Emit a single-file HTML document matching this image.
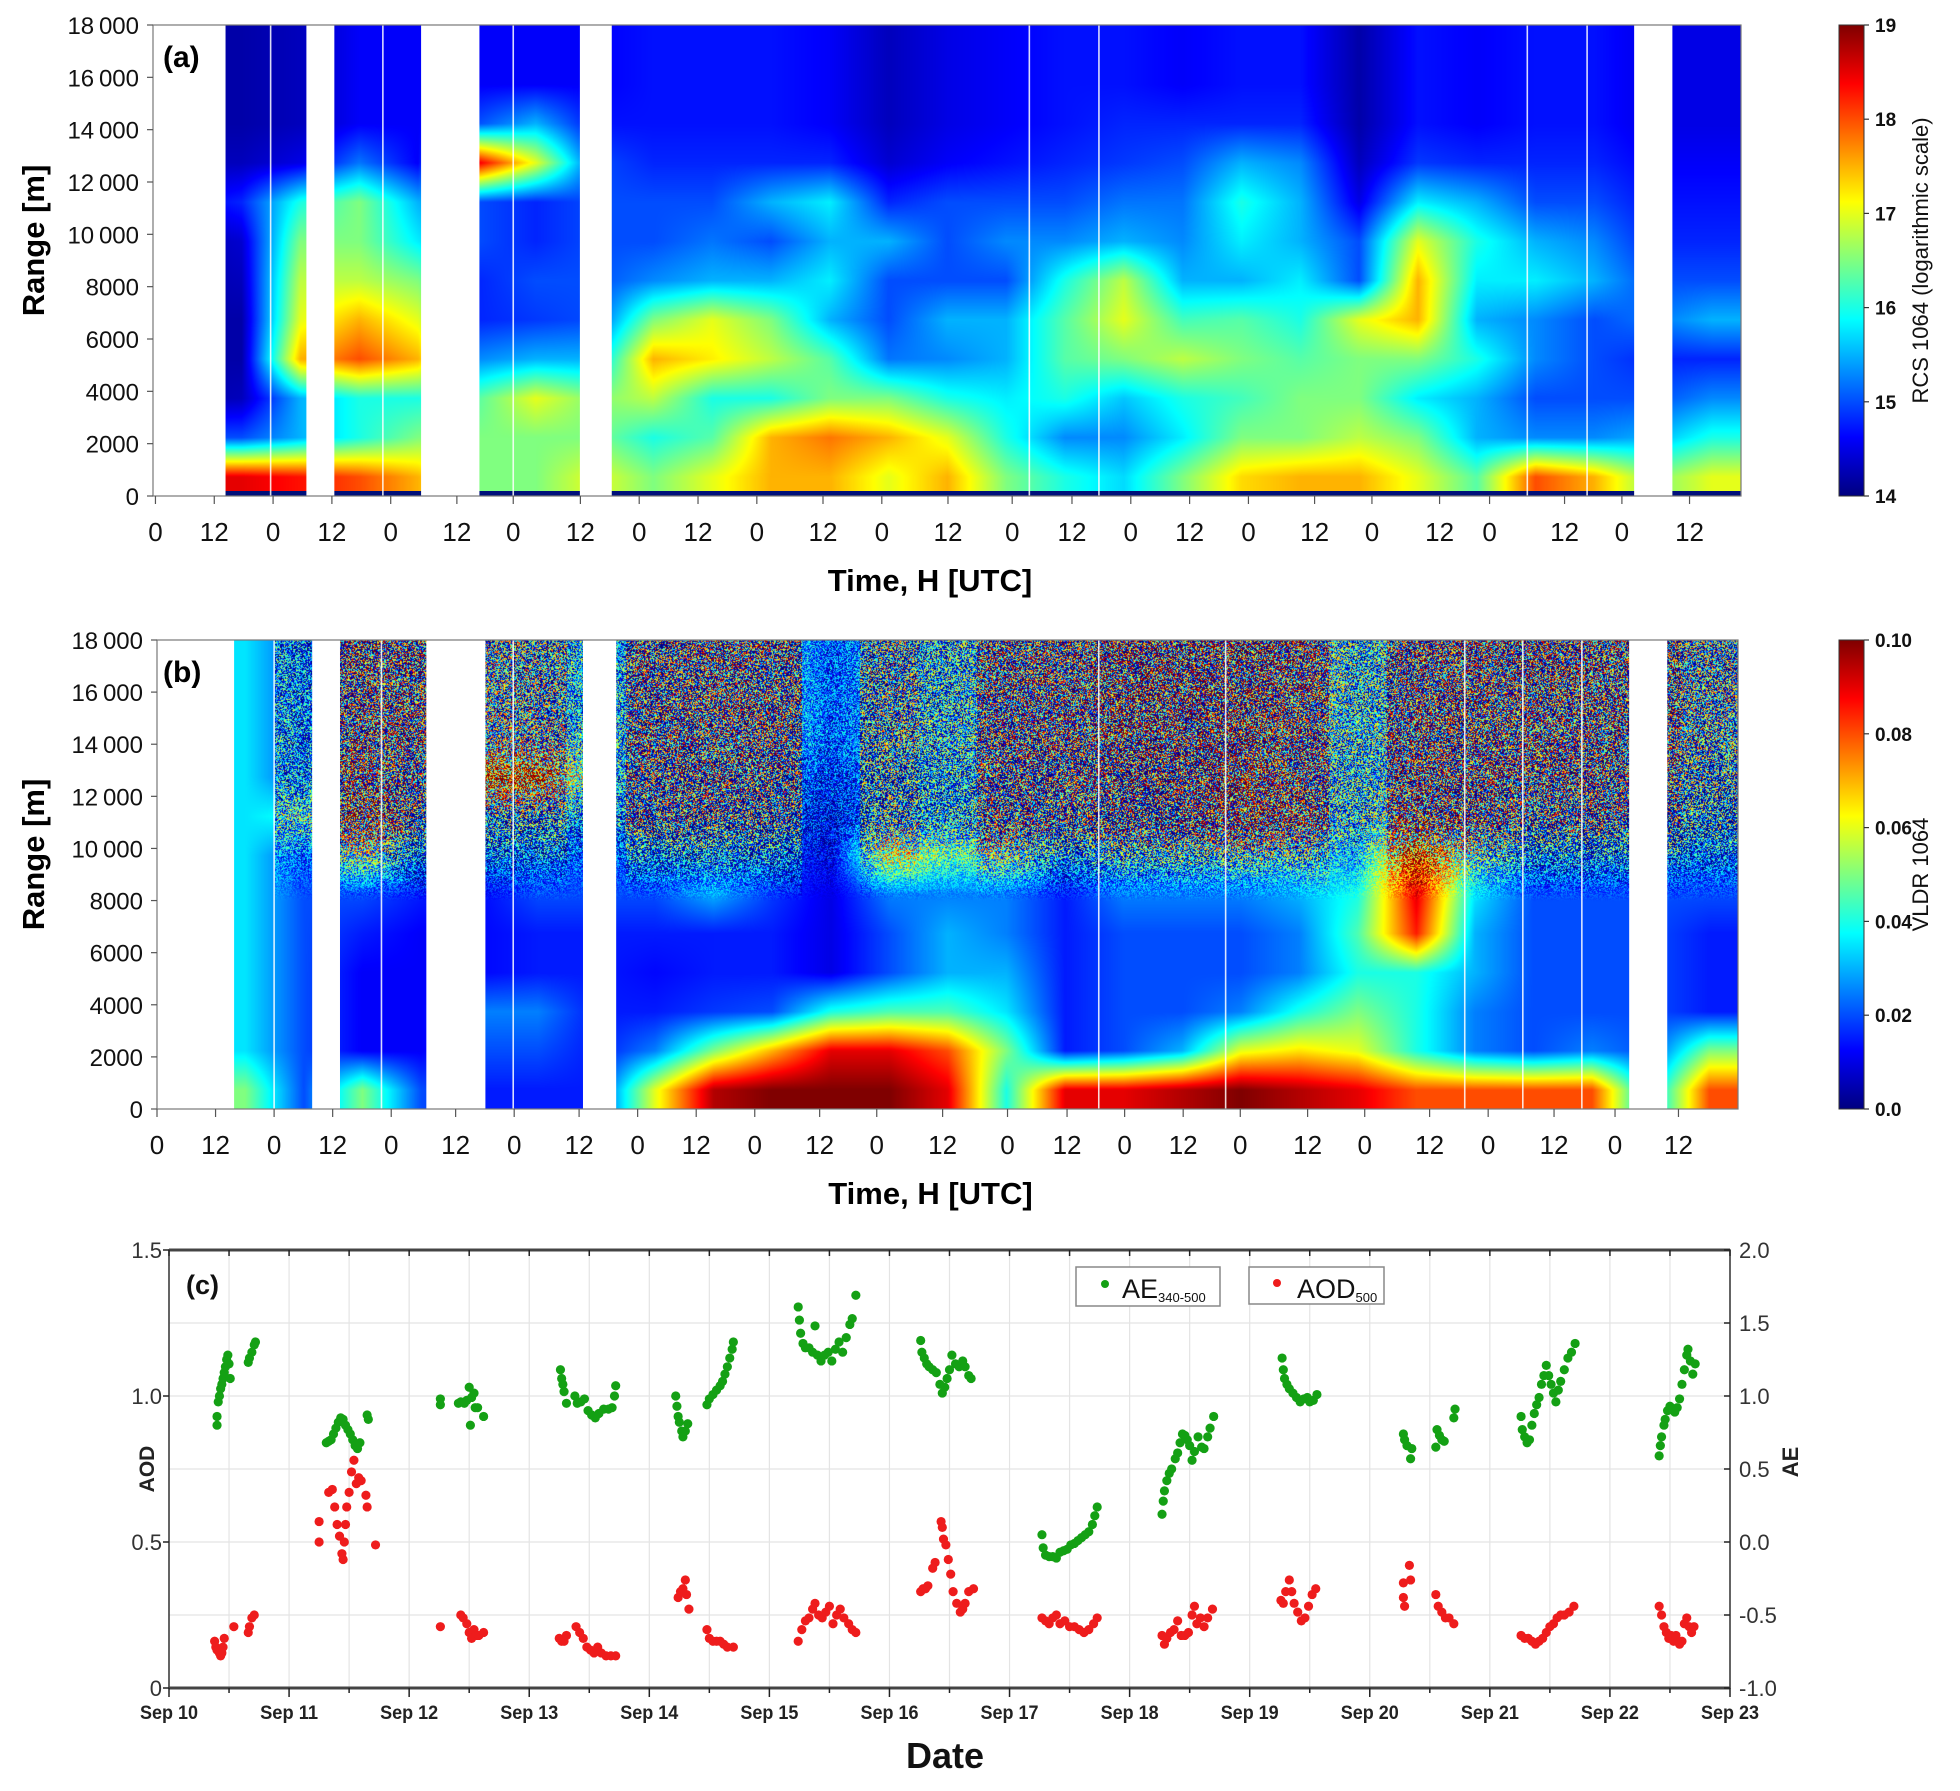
<!DOCTYPE html>
<html><head><meta charset="utf-8">
<style>
html,body{margin:0;padding:0;background:#fff;}
#wrap{position:relative;width:1960px;height:1791px;overflow:hidden;font-family:"Liberation Sans",sans-serif;}
canvas{position:absolute;}
svg{position:absolute;left:0;top:0;}
</style></head>
<body>
<div id="wrap">
<canvas id="heatA"></canvas>
<canvas id="heatB"></canvas>
<svg id="fig" width="1960" height="1791" viewBox="0 0 1960 1791">
<defs>
<linearGradient id="jet" x1="0" y1="1" x2="0" y2="0">
<stop offset="0" stop-color="#00007f"/><stop offset="0.125" stop-color="#0000ff"/>
<stop offset="0.375" stop-color="#00ffff"/><stop offset="0.625" stop-color="#ffff00"/>
<stop offset="0.875" stop-color="#ff0000"/><stop offset="1" stop-color="#7f0000"/>
</linearGradient>
</defs>
<g id="layerA"></g>
<g id="layerB"></g>
<g id="layerC"></g>
</svg>
</div>
<script>
// ---------- DATA ----------
const rcsCols = [
[18.5,15,14.2,14.2,14.2,14.2,14.2,14.5,14.3,14.2,14.2,14.2],
[18.5,15,14.3,14.2,14.2,14.3,14.4,14.8,14.3,14.2,14.2,14.2],
[18.3,15.5,15.5,17.5,17,16.8,16.5,16,14.5,14.3,14.3,14.3],
[18,16,16,18,17.5,16.8,16.5,16.5,15.2,14.6,14.6,14.6],
[17.5,16.5,16,17.5,17,16.5,15.8,15.5,14.6,14.6,14.6,14.6],
[16.5,16.5,16.3,15.3,14.8,14.8,15,15,18.5,15,14.6,14.6],
[16.5,16.5,17,15.5,14.9,15,14.8,14.8,17,15.5,14.6,14.6],
[17,16.5,16.5,15.5,15,15,15,15,15,14.7,14.6,14.6],
[16.5,16,16.8,17.5,16.5,15.3,15,15,14.8,14.7,14.7,14.7],
[17,16.3,16,17.2,17,15.5,15.2,15,14.8,14.7,14.7,14.7],
[17.5,17.5,16,16.8,16.5,15.5,15,15.5,14.8,14.7,14.7,14.7],
[17.5,17.8,16.5,16.3,15.5,15.8,15.5,15.8,14.8,14.6,14.6,14.6],
[17,17.5,16.5,15.2,15,15,15.5,14.8,14.4,14.3,14.3,14.3],
[17.5,17,16,15.3,15.5,15,15,15,14.6,14.5,14.5,14.5],
[16.5,16,15.8,15.5,15.5,15,15.3,15,14.7,14.6,14.6,14.6],
[16,15.3,16,16.3,16.3,16,15.3,15,14.8,14.7,14.7,14.7],
[15.7,15.3,15.6,16.5,17,16.8,15.5,15.2,14.9,14.8,14.7,14.7],
[16.5,15.8,16,16.8,16.2,15.5,15.3,15.2,15,14.8,14.6,14.6],
[17.3,16.5,16.2,16.5,16.3,15.5,15.8,16,15.5,14.8,14.7,14.7],
[17.5,16.5,16.5,16.3,16,15.8,15.5,15.5,15.3,14.8,14.7,14.7],
[17.5,16.8,16.5,16.5,17,15,15,14.5,14.3,14.2,14.2,14.2],
[17,16.5,15.8,16.5,17.5,17.5,17,15.8,14.9,14.7,14.7,14.7],
[16.3,15.5,15.5,16,15.5,15.8,16,15.5,14.8,14.6,14.6,14.6],
[18,15.3,15,15.3,15.3,15.8,15.5,15,14.8,14.7,14.7,14.7],
[17.5,15.3,15,15,15,15.5,15.3,15,14.8,14.7,14.7,14.7],
[16.5,15.5,15,14.8,15.2,15,14.8,14.7,14.6,14.5,14.5,14.5],
[17,16,15.3,14.8,15.5,15,14.8,14.7,14.6,14.5,14.5,14.5]
];
const vldrCols = [
[5,3.5,3.5,3.5,3.5,3.5,3.5,3.5,3.5,3.5,3.5,3.5],
[5,3.5,3.5,3.5,3.5,3.5,3.5,3.5,3.5,3.5,3.5,3.5],
[2,2,2,2,2,2,2,4,2,2,2,2],
[5,1.2,1.2,1.2,1.5,2,5,6,5,4,4,4],
[2,1.2,1.2,1.2,1.2,1.5,1.5,2,2.5,3.5,3.5,3.5],
[1.5,2,2.5,1.3,1.3,1.3,2,2.5,9,4,3.5,3.5],
[1.5,2,2.5,1.5,1.5,2,2,2,9,3.5,3,3],
[1.5,1.5,1.5,1.5,1.5,2,2,2.5,3,3,3,3],
[6,2.5,1.5,1.3,1.5,2,2,2.5,2.5,3,3,3],
[9.5,5,1.8,1.5,1.5,3,2,2.5,3,3.5,3.5,3.5],
[10,7,2,1.5,1.5,1.8,2,2,2.5,3.5,3.5,3.5],
[10,9,4,1,1,1,1,1,1.5,2,2,2],
[10,9,4.5,2,2,2.5,6,2.5,2.5,3,3,3],
[9,8,4.5,3,3,2.5,4.5,2.5,2.5,3,3,3],
[4,5,3.5,3,2.5,2.5,4.5,3,3,3.5,3.5,3.5],
[9,1.5,1.5,1.5,1.5,1.5,2,2.5,3,4,4,4],
[9,2,2,2,2,2.5,3,3,3.5,4,4.5,4.5],
[9.5,3,2,2,2,2.5,3,3,3.5,4,4.5,4.5],
[10,6,2.5,2,2,2.5,3.5,6,6,4.5,4.5,4.5],
[9.5,6.5,4,2.5,2.5,3,3.5,4.5,4,4.5,4.5,4.5],
[9,6,5,4,4.5,4,3,3,3,3,3,3],
[8,4,4,4,8.5,9,9,5,4,4,4,4],
[8,2.5,2.5,3,3,3.5,4,3.5,4,4,4,4],
[8,2,2,2,2,2,2,2.5,3.5,4,4,4],
[8,2.5,2,2,2,2,2,2.5,3.5,4,4,4],
[3,2,2,2,2,2,2,2.5,3,3.5,3.5,3.5],
[8,5,1.5,1.5,1.5,2,2,2,2.5,3,3,3]
];
const vldrNoise = [0,0,0.5,1,1,0.8,0.8,0.5,1,1,1,0.3,0.8,0.6,1,1,1.1,1.1,1.1,1,0.6,1,1,1,1,1,0.8];
const gapsA = [[0,14.8],[31.4,37],[54.8,66.6],[87.2,93.6],[302.3,310]];
const linesA = [24,46.9,73.5,178.8,193,280.4,292.6];
const gapsB = [[0,15.8],[31.9,37.5],[55.3,67.3],[87.4,94.1],[301.8,309.5]];
const linesB = [24,46,73,193,219,268,279.9,292];
const tickHoursA = [0.5,12.5,24.5,36.5,48.5,62,73.5,87.2,99.2,111.2,123.2,136.7,148.7,162.2,175.3,187.5,199.5,211.5,223.5,237,248.7,262.5,272.7,288,299.7,313.5];
const tickHoursB = [0,12,24,36,48,61.2,73.2,86.5,98.5,110.5,122.5,135.8,147.5,161,174.3,186.5,198.3,210.3,222,235.8,247.5,260.8,272.8,286.3,298.8,311.8];
const tickLabels = ["0","12","0","12","0","12","0","12","0","12","0","12","0","12","0","12","0","12","0","12","0","12","0","12","0","12"];
const rangeTicks = [0,2000,4000,6000,8000,10000,12000,14000,16000,18000];
const rangeLabels = ["0","2000","4000","6000","8000","10\u2009000","12\u2009000","14\u2009000","16\u2009000","18\u2009000"];
const cbATicks = [14,15,16,17,18,19];
const cbBTicks = [0,0.02,0.04,0.06,0.08,0.10];
const cbBLabels = ["0.0","0.02","0.04","0.06","0.08","0.10"];
const aeDays = [0.40,0.40,0.41,0.42,0.43,0.44,0.45,0.46,0.47,0.48,0.49,0.50,0.51,0.66,0.67,0.69,0.71,0.72,
1.31,1.33,1.35,1.37,1.39,1.41,1.43,1.45,1.47,1.49,1.51,1.53,1.55,1.57,1.59,1.65,1.66,
2.26,2.26,2.41,2.43,2.46,2.48,2.50,2.51,2.52,2.54,2.55,2.57,2.62,
3.26,3.27,3.28,3.29,3.31,3.38,3.40,3.43,3.46,3.49,3.52,3.55,3.58,3.62,3.66,3.69,3.71,3.72,
4.22,4.23,4.24,4.25,4.27,4.28,4.30,4.32,4.48,4.50,4.53,4.56,4.59,4.61,4.63,4.65,4.67,4.69,4.70,
5.24,5.25,5.26,5.28,5.30,5.33,5.36,5.38,5.40,5.43,5.46,5.49,5.52,5.55,5.58,5.61,5.64,5.67,5.69,5.72,
6.26,6.27,6.29,6.31,6.33,6.36,6.39,6.42,6.44,6.46,6.48,6.50,6.52,6.55,6.58,6.61,6.63,6.66,6.68,
7.27,7.28,7.30,7.33,7.36,7.39,7.42,7.45,7.48,7.51,7.54,7.57,7.60,7.63,7.66,7.69,7.71,7.73,
8.27,8.28,8.29,8.31,8.33,8.35,8.38,8.40,8.42,8.44,8.46,8.48,8.50,8.52,8.54,8.57,8.60,8.62,8.65,8.67,8.70,
9.27,9.28,9.29,9.31,9.33,9.36,9.39,9.42,9.45,9.48,9.50,9.53,9.56,
10.28,10.29,10.31,10.34,10.35,10.55,10.56,10.58,10.60,10.62,10.70,10.71,
11.26,11.27,11.29,11.31,11.33,11.35,11.37,11.39,11.41,11.43,11.45,11.47,11.49,11.51,11.53,11.55,11.57,11.59,11.62,11.65,11.68,11.71,
12.41,12.42,12.43,12.45,12.46,12.48,12.50,12.52,12.54,12.56,12.58,12.60,12.62,12.64,12.65,12.67,12.69,12.71];
const aeValues = [0.80,0.86,0.96,1.0,1.05,1.08,1.12,1.16,1.2,1.25,1.28,1.22,1.12,1.23,1.26,1.3,1.35,1.37,
0.68,0.69,0.70,0.74,0.78,0.82,0.85,0.84,0.80,0.77,0.74,0.70,0.66,0.64,0.68,0.87,0.84,
0.98,0.94,0.95,0.96,0.95,0.97,1.06,0.80,0.99,1.02,0.92,0.92,0.86,
1.18,1.12,1.08,1.03,0.95,1.0,0.95,0.96,0.98,0.90,0.87,0.85,0.88,0.91,0.91,0.92,1.0,1.07,
1.0,0.93,0.86,0.82,0.76,0.72,0.76,0.81,0.94,0.98,1.01,1.04,1.07,1.10,1.15,1.2,1.26,1.32,1.37,
1.61,1.52,1.43,1.36,1.33,1.33,1.30,1.48,1.28,1.24,1.28,1.30,1.24,1.32,1.37,1.30,1.40,1.49,1.53,1.69,
1.38,1.30,1.26,1.22,1.20,1.18,1.16,1.08,1.02,1.06,1.12,1.18,1.28,1.22,1.2,1.24,1.20,1.14,1.12,
0.05,-0.04,-0.09,-0.10,-0.10,-0.11,-0.07,-0.06,-0.05,-0.02,-0.01,0.01,0.03,0.05,0.07,0.12,0.18,0.24,
0.19,0.28,0.35,0.42,0.47,0.50,0.57,0.61,0.68,0.74,0.73,0.70,0.66,0.56,0.62,0.72,0.65,0.64,0.72,0.78,0.86,
1.26,1.18,1.12,1.08,1.05,1.02,0.99,0.96,0.98,0.99,0.96,0.97,1.01,
0.74,0.70,0.66,0.57,0.64,0.65,0.77,0.73,0.70,0.69,0.85,0.91,
0.86,0.77,0.72,0.68,0.70,0.80,0.88,0.94,0.99,1.08,1.14,1.21,1.14,1.08,1.02,0.96,1.04,1.10,1.18,1.26,1.30,1.36,
0.59,0.66,0.72,0.80,0.84,0.90,0.93,0.91,0.89,0.92,0.98,1.08,1.18,1.28,1.32,1.24,1.15,1.22];
const aodDays = [0.38,0.39,0.40,0.41,0.42,0.43,0.44,0.45,0.46,0.54,0.66,0.67,0.69,0.71,
1.25,1.25,1.33,1.36,1.38,1.40,1.42,1.44,1.45,1.46,1.47,1.48,1.50,1.52,1.54,1.56,1.58,1.60,1.64,1.65,1.72,
2.26,2.43,2.45,2.48,2.50,2.52,2.54,2.56,2.58,2.62,
3.25,3.27,3.29,3.31,3.39,3.42,3.45,3.48,3.51,3.54,3.57,3.60,3.64,3.68,3.72,
4.24,4.26,4.28,4.30,4.31,4.33,4.48,4.50,4.53,4.56,4.59,4.62,4.65,4.70,
5.24,5.27,5.30,5.33,5.36,5.38,5.41,5.44,5.47,5.50,5.53,5.56,5.59,5.62,5.66,5.69,5.72,
6.26,6.28,6.30,6.32,6.36,6.38,6.43,6.44,6.45,6.47,6.49,6.51,6.53,6.56,6.59,6.61,6.63,6.66,6.70,
7.27,7.30,7.33,7.36,7.39,7.42,7.46,7.50,7.54,7.58,7.62,7.66,7.70,7.73,
8.27,8.29,8.31,8.34,8.37,8.40,8.43,8.46,8.49,8.52,8.54,8.56,8.59,8.62,8.65,8.69,
9.26,9.28,9.30,9.33,9.35,9.37,9.40,9.43,9.46,9.49,9.52,9.55,
10.28,10.28,10.29,10.33,10.34,10.55,10.57,10.60,10.63,10.66,10.70,
11.26,11.29,11.32,11.35,11.38,11.41,11.44,11.47,11.50,11.53,11.56,11.59,11.62,11.66,11.70,
12.41,12.43,12.45,12.47,12.49,12.51,12.53,12.55,12.58,12.60,12.62,12.64,12.66,12.68,12.70];
const aodValues = [0.16,0.14,0.13,0.13,0.12,0.11,0.12,0.14,0.17,0.21,0.19,0.21,0.24,0.25,
0.57,0.50,0.67,0.68,0.62,0.56,0.52,0.46,0.44,0.50,0.56,0.62,0.67,0.74,0.78,0.70,0.72,0.71,0.66,0.62,0.49,
0.21,0.25,0.24,0.22,0.19,0.17,0.20,0.18,0.18,0.19,
0.17,0.16,0.16,0.18,0.21,0.19,0.17,0.14,0.13,0.12,0.14,0.12,0.11,0.11,0.11,
0.31,0.33,0.34,0.37,0.32,0.27,0.20,0.17,0.16,0.16,0.16,0.15,0.14,0.14,
0.16,0.20,0.23,0.24,0.27,0.29,0.25,0.24,0.26,0.28,0.22,0.25,0.27,0.24,0.22,0.20,0.19,
0.33,0.34,0.34,0.35,0.41,0.43,0.57,0.55,0.51,0.49,0.44,0.39,0.33,0.29,0.26,0.27,0.29,0.33,0.34,
0.24,0.23,0.22,0.24,0.25,0.22,0.23,0.21,0.21,0.20,0.19,0.20,0.22,0.24,
0.18,0.15,0.17,0.19,0.20,0.23,0.18,0.18,0.19,0.25,0.28,0.22,0.24,0.21,0.24,0.27,
0.30,0.29,0.33,0.37,0.33,0.29,0.26,0.23,0.24,0.28,0.32,0.34,
0.36,0.31,0.28,0.42,0.37,0.32,0.28,0.26,0.24,0.24,0.22,
0.18,0.17,0.17,0.16,0.15,0.16,0.17,0.19,0.21,0.22,0.24,0.25,0.25,0.26,0.28,
0.28,0.25,0.21,0.19,0.17,0.18,0.16,0.18,0.15,0.16,0.22,0.24,0.21,0.19,0.21];
const dateLabels = ["Sep 10","Sep 11","Sep 12","Sep 13","Sep 14","Sep 15","Sep 16","Sep 17","Sep 18","Sep 19","Sep 20","Sep 21","Sep 22","Sep 23"];
const aodTicks = [0,0.5,1.0,1.5];
const aodTickLabels = ["0","0.5","1.0","1.5"];
const aeTicks = [-1.0,-0.5,0.0,0.5,1.0,1.5,2.0];
const aeTickLabels = ["-1.0","-0.5","0.0","0.5","1.0","1.5","2.0"];

// ---------- GEOMETRY ----------
const PA = {x0:153,x1:1741,y0:25,y1:496};
const PB = {x0:157,x1:1738,y0:640,y1:1109};
const PC = {x0:169,x1:1730,y0:1250,y1:1688};
const HOURS = 324, BINH = 12, BINM = 1500;
function xHour(p,h){return p.x0 + h/HOURS*(p.x1-p.x0);}
function yRange(p,m){return p.y1 - m/18000*(p.y1-p.y0);}
function xDay(d){return PC.x0 + d/13*(PC.x1-PC.x0);}
function yAOD(v){return PC.y1 - v/1.5*(PC.y1-PC.y0);}
function yAE(v){return PC.y1 - (v+1)/3*(PC.y1-PC.y0);}

const NS = "http://www.w3.org/2000/svg";
function mk(parent, tag, attrs, text){
  const e = document.createElementNS(NS, tag);
  for (const k in attrs) e.setAttribute(k, attrs[k]);
  if (text !== undefined) e.textContent = text;
  parent.appendChild(e);
  return e;
}
function jet(t){
  t = Math.max(0, Math.min(1, t));
  const c = v => Math.round(255*Math.max(0, Math.min(1, v)));
  return [c(1.5-Math.abs(4*t-3)), c(1.5-Math.abs(4*t-2)), c(1.5-Math.abs(4*t-1))];
}
function hash(x,y){
  let h = (x*374761393 + y*668265263) | 0;
  h = (h ^ (h >>> 13)) * 1274126177 | 0;
  return (((h ^ (h >>> 16)) >>> 0) % 1000) / 1000;
}
function sampleGrid(cols, h, m){
  const nx = cols.length, ny = cols[0].length;
  let fx = h/BINH - 0.5, fy = m/BINM - 0.5;
  fx = Math.max(0, Math.min(nx-1, fx)); fy = Math.max(0, Math.min(ny-1, fy));
  const i0 = Math.floor(fx), j0 = Math.floor(fy);
  const i1 = Math.min(nx-1, i0+1), j1 = Math.min(ny-1, j0+1);
  const tx = fx-i0, ty = fy-j0;
  const a = cols[i0][j0]*(1-tx) + cols[i1][j0]*tx;
  const b = cols[i0][j1]*(1-tx) + cols[i1][j1]*tx;
  return a*(1-ty) + b*ty;
}
function drawHeat(id, p, cols, vmin, vmax, noise){
  const cv = document.getElementById(id);
  const w = p.x1-p.x0, hgt = p.y1-p.y0;
  cv.width = w; cv.height = hgt;
  cv.style.left = p.x0+"px"; cv.style.top = p.y0+"px";
  const ctx = cv.getContext("2d");
  const img = ctx.createImageData(w, hgt);
  for (let y=0; y<hgt; y++){
    const m = (hgt - y)/hgt*18000;
    for (let x=0; x<w; x++){
      const h = x/w*HOURS;
      let v = sampleGrid(cols, h, m);
      if (noise){
        const amp = noise[Math.min(noise.length-1, Math.floor(h/BINH))];
        const alt = Math.max(0, Math.min(1, (m-8000)/3000));
        v += amp*alt*14*(hash(x, y)-0.5);
      }
      const c = jet((v-vmin)/(vmax-vmin));
      const k = (y*w + x)*4;
      img.data[k]=c[0]; img.data[k+1]=c[1]; img.data[k+2]=c[2]; img.data[k+3]=255;
    }
  }
  ctx.putImageData(img, 0, 0);
}
drawHeat("heatA", PA, rcsCols, 14, 19, null);
drawHeat("heatB", PB, vldrCols, 0, 10, vldrNoise);

function lidarAxes(g, p, gaps, lines, tickHours, label, cbTicks, cbLabels, cbMin, cbMax, cbTitle, navyStrip){
  if (navyStrip){
    const s = mk(g, "rect", {x:p.x0, y:p.y1-5, width:p.x1-p.x0, height:5, fill:"#00107a"});
    
    
  }
  gaps.forEach(gp => {
    const r = mk(g, "rect", {x:xHour(p,gp[0])-0.5, y:p.y0, width:xHour(p,gp[1])-xHour(p,gp[0])+0.5, height:p.y1-p.y0, fill:"#fff"});
    
    
  });
  lines.forEach(hh => {
    const l = mk(g, "line", {x1:xHour(p,hh), x2:xHour(p,hh), y1:p.y0, y2:p.y1, stroke:"#fff", "stroke-width":1.6, opacity:0.85});
    
    
  });
  const fr = mk(g, "rect", {x:p.x0, y:p.y0, width:p.x1-p.x0, height:p.y1-p.y0, fill:"none", stroke:"#777", "stroke-width":1.2});
  
  
  rangeTicks.forEach((v,i) => {
    const y = yRange(p, v);
    const t = mk(g, "line", {x1:p.x0-6, x2:p.x0, y1:y, y2:y, stroke:"#555", "stroke-width":1.2});
    
    
    const tx = mk(g, "text", {x:p.x0-14, y:y+9, "text-anchor":"end", "font-size":24, fill:"#111"}, rangeLabels[i]);
    
    
  });
  tickHours.forEach((hh,i) => {
    const x = xHour(p, hh);
    const t = mk(g, "line", {x1:x, x2:x, y1:p.y1, y2:p.y1+8, stroke:"#555", "stroke-width":1.2});
    
    
    const tx = mk(g, "text", {x:x, y:p.y1+45, "text-anchor":"middle", "font-size":26, fill:"#111"}, tickLabels[i]);
    
    
  });
  const yt = mk(g, "text", {x:0, y:0, transform:"translate(44,"+((p.y0+p.y1)/2-20)+") rotate(-90)", "text-anchor":"middle", "font-size":31, "font-weight":"bold", fill:"#000"}, "Range [m]");
  
  
  const xt = mk(g, "text", {x:(p.x0+p.x1)/2-17, y:p.y1+95, "text-anchor":"middle", "font-size":31, "font-weight":"bold", fill:"#000"}, "Time, H [UTC]");
  
  
  const pl = mk(g, "text", {x:163, y:p.y0+42, "font-size":30, "font-weight":"bold", fill:"#000"}, label);
  
  
  const cx0 = 1839, cx1 = 1864;
  const cb = mk(g, "rect", {x:cx0, y:p.y0, width:cx1-cx0, height:p.y1-p.y0, fill:"url(#jet)", stroke:"#333", "stroke-width":1});
  
  
  cbTicks.forEach((v,i) => {
    const y = p.y1 - (v-cbMin)/(cbMax-cbMin)*(p.y1-p.y0);
    const t = mk(g, "line", {x1:cx1, x2:cx1+5, y1:y, y2:y, stroke:"#333", "stroke-width":1.2});
    
    
    const tx = mk(g, "text", {x:cx1+11, y:y+7, "font-size":19, "font-weight":"bold", fill:"#111"}, cbLabels[i]);
    
    
  });
  const ct = mk(g, "text", {x:0, y:0, transform:"translate(1928,"+((p.y0+p.y1)/2)+") rotate(-90)", "text-anchor":"middle", "font-size":22, fill:"#111"}, cbTitle);
  
  
}
lidarAxes(document.getElementById("layerA"), PA, gapsA, linesA, tickHoursA, "(a)", cbATicks, cbATicks.map(String), 14, 19, "RCS 1064 (logarithmic scale)", true);
lidarAxes(document.getElementById("layerB"), PB, gapsB, linesB, tickHoursB, "(b)", cbBTicks, cbBLabels, 0, 0.1, "VLDR 1064", false);

// ---------- PANEL C ----------
const gC = document.getElementById("layerC");
for (let k=0; k<=26; k++){
  const x = xDay(k/2);
  const gl = mk(gC, "line", {x1:x, x2:x, y1:PC.y0, y2:PC.y1, stroke:"#e4e4e4", "stroke-width":1.2});
  
  
}
for (let k=1; k<6; k++){
  const y = yAOD(k*0.25);
  const gl = mk(gC, "line", {x1:PC.x0, x2:PC.x1, y1:y, y2:y, stroke:"#e4e4e4", "stroke-width":1.2});
  
  
}
aeDays.forEach((d,i) => {
  const c = mk(gC, "circle", {cx:xDay(d), cy:yAE(aeValues[i]), r:4.6, fill:"#14a014"});
  
  
});
aodDays.forEach((d,i) => {
  const c = mk(gC, "circle", {cx:xDay(d), cy:yAOD(aodValues[i]), r:4.6, fill:"#ee1c1c"});
  
  
});
const frame = mk(gC, "rect", {x:PC.x0, y:PC.y0, width:PC.x1-PC.x0, height:PC.y1-PC.y0, fill:"none", stroke:"#333", "stroke-width":1.5});


[PC.y0, PC.y1].forEach(y => {
  const l = mk(gC, "line", {x1:PC.x0, x2:PC.x1, y1:y, y2:y, stroke:"#444", "stroke-width":3});
  
  
});
for (let k=0; k<=26; k++){
  const x = xDay(k/2);
  const t1 = mk(gC, "line", {x1:x, x2:x, y1:PC.y1, y2:PC.y1+(k%2?5:9), stroke:"#222", "stroke-width":1.5});
  
  
  const t2 = mk(gC, "line", {x1:x, x2:x, y1:PC.y0, y2:PC.y0+6, stroke:"#222", "stroke-width":1.5});
  
  
}
dateLabels.forEach((s,i) => {
  const t = mk(gC, "text", {x:xDay(i), y:1719, "text-anchor":"middle", "font-size":19, "font-weight":"bold", fill:"#222", textLength:58, lengthAdjust:"spacingAndGlyphs"}, s);
  
  
});
aodTicks.forEach((v,i) => {
  const y = yAOD(v);
  const t = mk(gC, "line", {x1:PC.x0-6, x2:PC.x0, y1:y, y2:y, stroke:"#222", "stroke-width":1.5});
  
  
  const tx = mk(gC, "text", {x:PC.x0-7, y:y+8, "text-anchor":"end", "font-size":22, fill:"#333"}, aodTickLabels[i]);
  
  
});
aeTicks.forEach((v,i) => {
  const y = yAE(v);
  const t = mk(gC, "line", {x1:PC.x1-6, x2:PC.x1, y1:y, y2:y, stroke:"#222", "stroke-width":1.5});
  
  
  const tx = mk(gC, "text", {x:PC.x1+9, y:y+8, "font-size":22, fill:"#333"}, aeTickLabels[i]);
  
  
});
const aodT = mk(gC, "text", {x:0, y:0, transform:"translate(154,1469) rotate(-90)", "text-anchor":"middle", "font-size":21, "font-weight":"bold", fill:"#222"}, "AOD");


const aeT = mk(gC, "text", {x:0, y:0, transform:"translate(1798,1462) rotate(-90)", "text-anchor":"middle", "font-size":22, "font-weight":"bold", fill:"#222"}, "AE");


const dT = mk(gC, "text", {x:945, y:1768, "text-anchor":"middle", "font-size":36, "font-weight":"bold", fill:"#111"}, "Date");


const cL = mk(gC, "text", {x:186, y:1294, "font-size":27, "font-weight":"bold", fill:"#111"}, "(c)");


const lg1 = mk(gC, "rect", {x:1076, y:1267, width:144, height:39, fill:"#fff", stroke:"#888", "stroke-width":1.5});


const ld1 = mk(gC, "circle", {cx:1105, cy:1284, r:4, fill:"#14a014"});


const lt1 = mk(gC, "text", {x:1122, y:1298, "font-size":27, fill:"#111"});


mk(lt1, "tspan", {}, "AE");
mk(lt1, "tspan", {"font-size":13, dy:4}, "340-500");
const lg2 = mk(gC, "rect", {x:1249, y:1267, width:135, height:37, fill:"#fff", stroke:"#888", "stroke-width":1.5});


const ld2 = mk(gC, "circle", {cx:1277, cy:1283, r:4, fill:"#ee1c1c"});


const lt2 = mk(gC, "text", {x:1297, y:1298, "font-size":27, fill:"#111"});


mk(lt2, "tspan", {}, "AOD");
mk(lt2, "tspan", {"font-size":13, dy:4}, "500");
</script>
</body></html>
